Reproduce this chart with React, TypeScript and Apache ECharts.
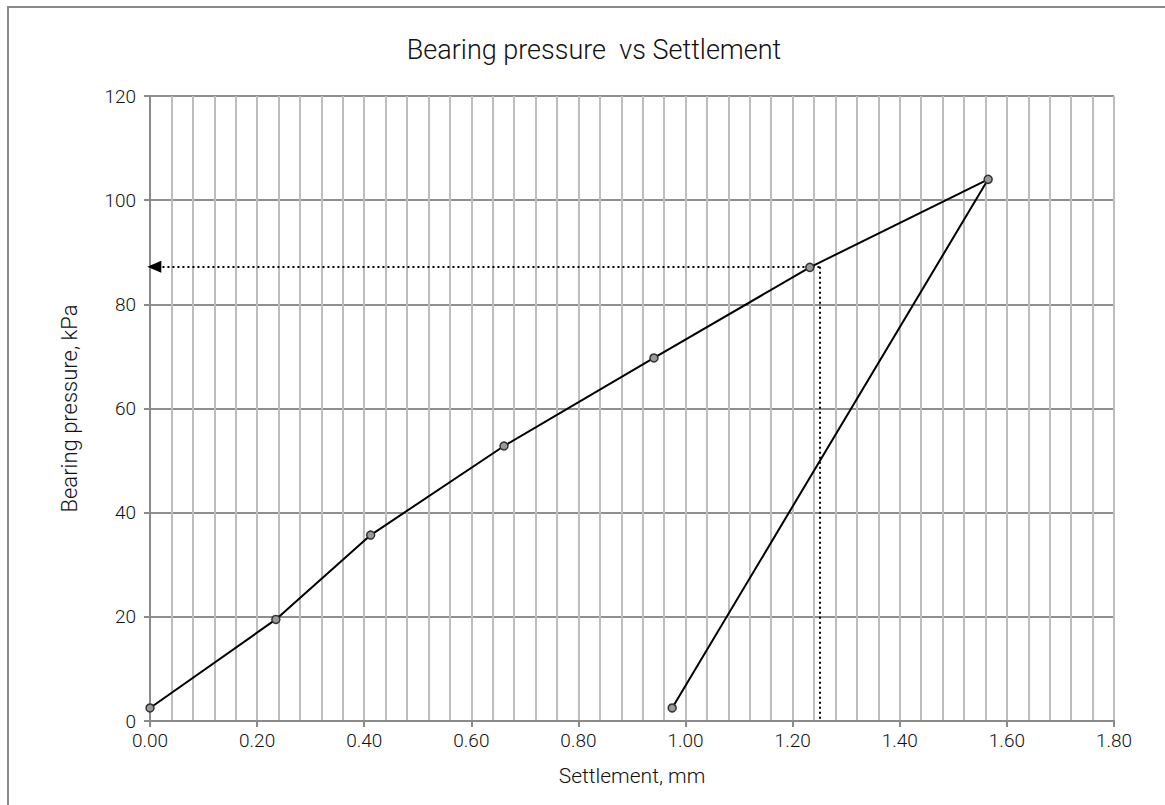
import React, { useEffect, useRef } from "react";
import * as echarts from "echarts";

const titleText = "Bearing pressure  vs Settlement";
const xAxisName = "Settlement, mm";
const yAxisName = "Bearing pressure, kPa";

const settlement = [0.0, 0.235, 0.412, 0.661, 0.941, 1.232, 1.565, 0.975];
const pressure = [2.5, 19.5, 35.7, 52.8, 69.7, 87.1, 104.0, 2.5];

const readX = 1.25;
const readY = 87.2;

const FONT = "Roboto, 'Liberation Sans', sans-serif";

export default function App() {
  const ref = useRef<HTMLDivElement>(null);
  useEffect(() => {
    if (!ref.current) return;
    const chart = echarts.init(ref.current, null, { renderer: "svg" });
    const data = settlement.map((s, i) => [s, pressure[i]]);
    chart.setOption({
      animation: false,
      backgroundColor: "#fff",
      title: {
        text: titleText,
        left: 589,
        textAlign: "center",
        top: 31,
        textStyle: { fontFamily: FONT, fontWeight: 300, fontSize: 27, color: "#111" },
      },
      graphic: [
        {
          type: "rect",
          shape: { x: 8, y: 7, width: 1300, height: 1000 },
          style: { fill: "none", stroke: "#8a8a8a", lineWidth: 2 },
          silent: true,
          z: -1,
        },
      ],
      grid: { left: 150, right: 51, top: 96, bottom: 84, containLabel: false },
      xAxis: {
        type: "value",
        min: 0,
        max: 1.8,
        interval: 0.2,
        name: xAxisName,
        nameLocation: "middle",
        nameGap: 44,
        nameTextStyle: { fontFamily: FONT, fontWeight: 300, fontSize: 21, color: "#111" },
        axisLine: { show: true, lineStyle: { color: "#8a8a8a", width: 2 } },
        axisTick: { show: true, length: 6, lineStyle: { color: "#8a8a8a", width: 2 } },
        minorTick: { show: false, splitNumber: 5 },
        axisLabel: {
          fontFamily: FONT,
          fontWeight: 300,
          fontSize: 19,
          color: "#111",
          margin: 10,
          formatter: (v: number) => v.toFixed(2),
        },
        splitLine: { show: true, lineStyle: { color: "#bdbdbd", width: 2 } },
        minorSplitLine: { show: true, lineStyle: { color: "#bdbdbd", width: 2 } },
      },
      yAxis: {
        type: "value",
        min: 0,
        max: 120,
        interval: 20,
        name: yAxisName,
        nameLocation: "middle",
        nameGap: 70,
        nameRotate: 90,
        nameTextStyle: { fontFamily: FONT, fontWeight: 300, fontSize: 22, color: "#111" },
        axisLine: { show: true, lineStyle: { color: "#8a8a8a", width: 2 } },
        axisTick: { show: true, length: 6, lineStyle: { color: "#8a8a8a", width: 2 } },
        axisLabel: { fontFamily: FONT, fontWeight: 300, fontSize: 19, color: "#111", margin: 14 },
        splitLine: { show: true, lineStyle: { color: "#8f8f8f", width: 2 } },
      },
      series: [
        {
          type: "line",
          data,
          lineStyle: { color: "#000", width: 2 },
          symbol: "circle",
          symbolSize: 8,
          itemStyle: { color: "#9a9a9a", borderColor: "#333", borderWidth: 1.5 },
          z: 5,
          markLine: {
            silent: true,
            symbol: "none",
            label: { show: false },
            lineStyle: { color: "#000", type: [2, 3], width: 2 },
            data: [
              [
                { coord: [readX, readY], symbol: "none" },
                { coord: [0.008, readY], symbol: "triangle", symbolSize: [12, 14] },
              ],
              [
                { coord: [readX, readY], symbol: "none" },
                { coord: [readX, 0], symbol: "none" },
              ],
            ],
          },
        },
      ],
    });
    return () => chart.dispose();
  }, []);
  return (
    <div
      ref={ref}
      style={{ position: "absolute", left: 0, top: 0, width: 1165, height: 805 }}
    />
  );
}
